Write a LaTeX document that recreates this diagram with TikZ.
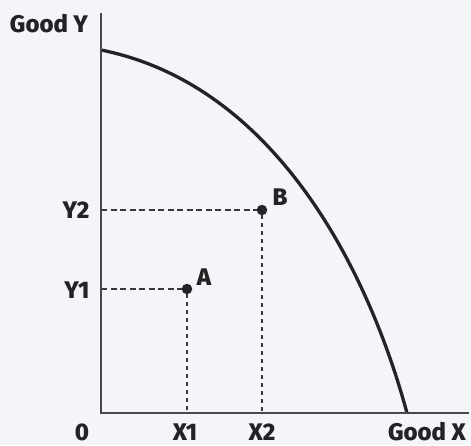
\documentclass[tikz,border=0pt]{standalone}
\usepackage{fontspec}
\setmainfont{Fira Sans}[BoldFont={Fira Sans ExtraBold}]
\definecolor{bg}{HTML}{F3F5F9}
\definecolor{ink}{HTML}{232325}
\definecolor{axis}{HTML}{48484C}
\begin{document}
\begin{tikzpicture}[x=1pt,y=-1pt,
  lbl/.style={anchor=base,inner sep=0pt,text=ink,font=\bfseries\fontsize{24}{27}\selectfont},
  dot/.style={circle,fill=ink,inner sep=0pt,minimum size=10.5pt},
  axisline/.style={draw=axis,line width=2.4pt},
  ppf/.style={draw=ink,line width=3.3pt},
  hdash/.style={draw=ink!90!bg,line width=2.9pt,dash pattern=on 6pt off 3.5pt},
  vdash/.style={draw=ink!90!bg,line width=2.9pt,dash pattern=on 4pt off 4pt}]
\fill[bg] (0,0) rectangle (471,445);
\useasboundingbox (0,0) rectangle (471,445);
\coordinate (O) at (101,413);
\coordinate (ytop) at (101,13);
\coordinate (xend) at (469,413);
\coordinate (cs) at (101,50);
\coordinate (ce) at (407,413);
\node[dot] (A) at (187,289) {};
\node[dot] (B) at (262,210) {};
\draw[hdash] (O |- A) -- (A);
\draw[vdash] (A) -- (A |- O);
\draw[hdash] (O |- B) -- (B);
\draw[vdash] (B) -- (B |- O);
\draw[ppf] (cs) .. controls (271,84) and (366,262) .. (ce);
\draw[axisline] (ytop) -- (O) -- (xend);
\node[lbl] (gy) at (49,32) {Good Y};
\node[lbl] (y2) at (76,218) {Y2};
\node[lbl] (y1) at (77,298) {Y1};
\node[lbl] (la) at (204,285) {A};
\node[lbl] (lb) at (280,205) {B};
\node[lbl] (l0) at (82,440) {0};
\node[lbl] (x1) at (185,440) {X1};
\node[lbl] (x2) at (262,440) {X2};
\node[lbl] (gx) at (427,440) {Good X};
\end{tikzpicture}
\end{document}
